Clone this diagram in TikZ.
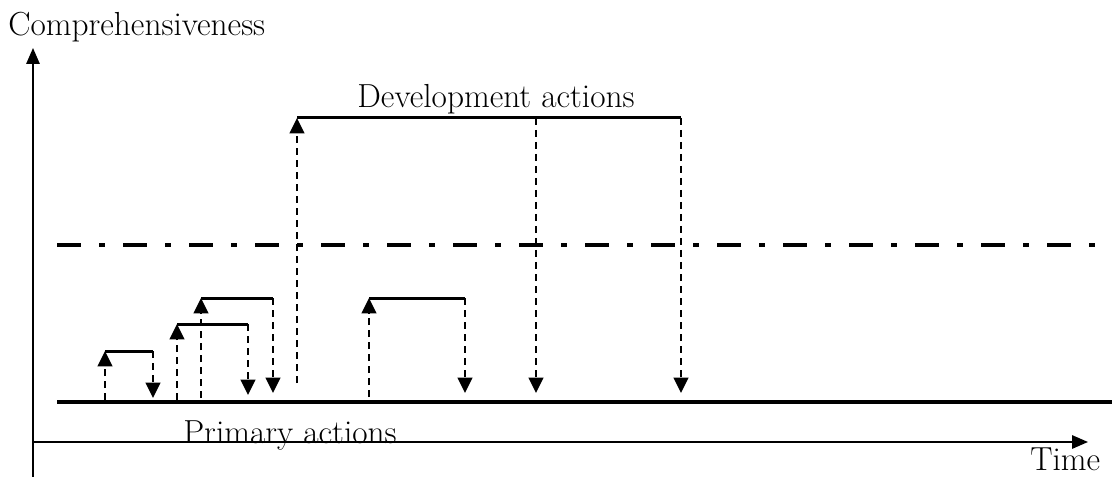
\documentclass[tikz,border=0pt]{standalone}
\usetikzlibrary{arrows.meta}
\begin{document}
\begin{tikzpicture}[x=0.75pt,y=-0.75pt,
  axisline/.style={line width=1.5pt,-{Triangle[length=12pt,width=10pt]}},
  baseline/.style={line width=2.6pt},
  levelline/.style={line width=2.25pt},
  limitline/.style={line width=3pt,dash pattern=on 18pt off 13.5pt on 4.5pt off 13.5pt},
  uparrow/.style={line width=1.5pt,dash pattern=on 5.5pt off 3.5pt,-{Triangle[length=11.5pt,width=11pt]}},
  downarrow/.style={uparrow},
  label/.style={inner sep=0pt,font=\fontsize{25}{30}\selectfont}]
\useasboundingbox (0,0) rectangle (1120,477);

% axes
\coordinate (origin) at (33,477);
\coordinate (ytip) at (33,48);
\coordinate (xstart) at (33,442);
\coordinate (xtip) at (1088,442);
\draw[axisline] (origin) -- (ytip);
\draw[axisline] (xstart) -- (xtip);
\node[label,anchor=base west] (ylab) at (8,36) {Comprehensiveness};
\node[label,anchor=base west] (xlab) at (1030,470) {Time};

% primary level and limit line
\coordinate (b0) at (57,402);
\coordinate (b1) at (1112,402);
\draw[baseline] (b0) -- (b1);
\coordinate (l0) at (57,245);
\coordinate (l1) at (1102,245);
\draw[limitline] (l0) -- (l1);
\node[label,anchor=base west] (primary) at (183,443) {Primary actions};

% small primary actions
\coordinate (a0) at (105,400); \coordinate (a1) at (105,351);
\coordinate (a2) at (153,351); \coordinate (a3) at (153,398);
\draw[levelline] (a1) -- (a2);
\draw[uparrow] (a0) -- (a1);
\draw[downarrow] (a2) -- (a3);

\coordinate (c0) at (177,400); \coordinate (c1) at (177,324);
\coordinate (c2) at (248,324); \coordinate (c3) at (248,395);
\draw[levelline] (c1) -- (c2);
\draw[uparrow] (c0) -- (c1);
\draw[downarrow] (c2) -- (c3);

\coordinate (d0) at (201,398); \coordinate (d1) at (201,298);
\coordinate (d2) at (273,298); \coordinate (d3) at (273,393);
\draw[levelline] (d1) -- (d2);
\draw[uparrow] (d0) -- (d1);
\draw[downarrow] (d2) -- (d3);

\coordinate (e0) at (369,397); \coordinate (e1) at (369,298);
\coordinate (e2) at (465,298); \coordinate (e3) at (465,393);
\draw[levelline] (e1) -- (e2);
\draw[uparrow] (e0) -- (e1);
\draw[downarrow] (e2) -- (e3);

% development actions
\coordinate (f0) at (297,383); \coordinate (f1) at (297,118);
\coordinate (f2) at (536,118); \coordinate (f3) at (536,393);
\coordinate (f4) at (681,118); \coordinate (f5) at (681,393);
\draw[levelline] (f1) -- (f4);
\draw[uparrow] (f0) -- (f1);
\draw[downarrow] (f2) -- (f3);
\draw[downarrow] (f4) -- (f5);
\node[label,anchor=base] (develop) at (496,108) {Development actions};
\end{tikzpicture}
\end{document}
